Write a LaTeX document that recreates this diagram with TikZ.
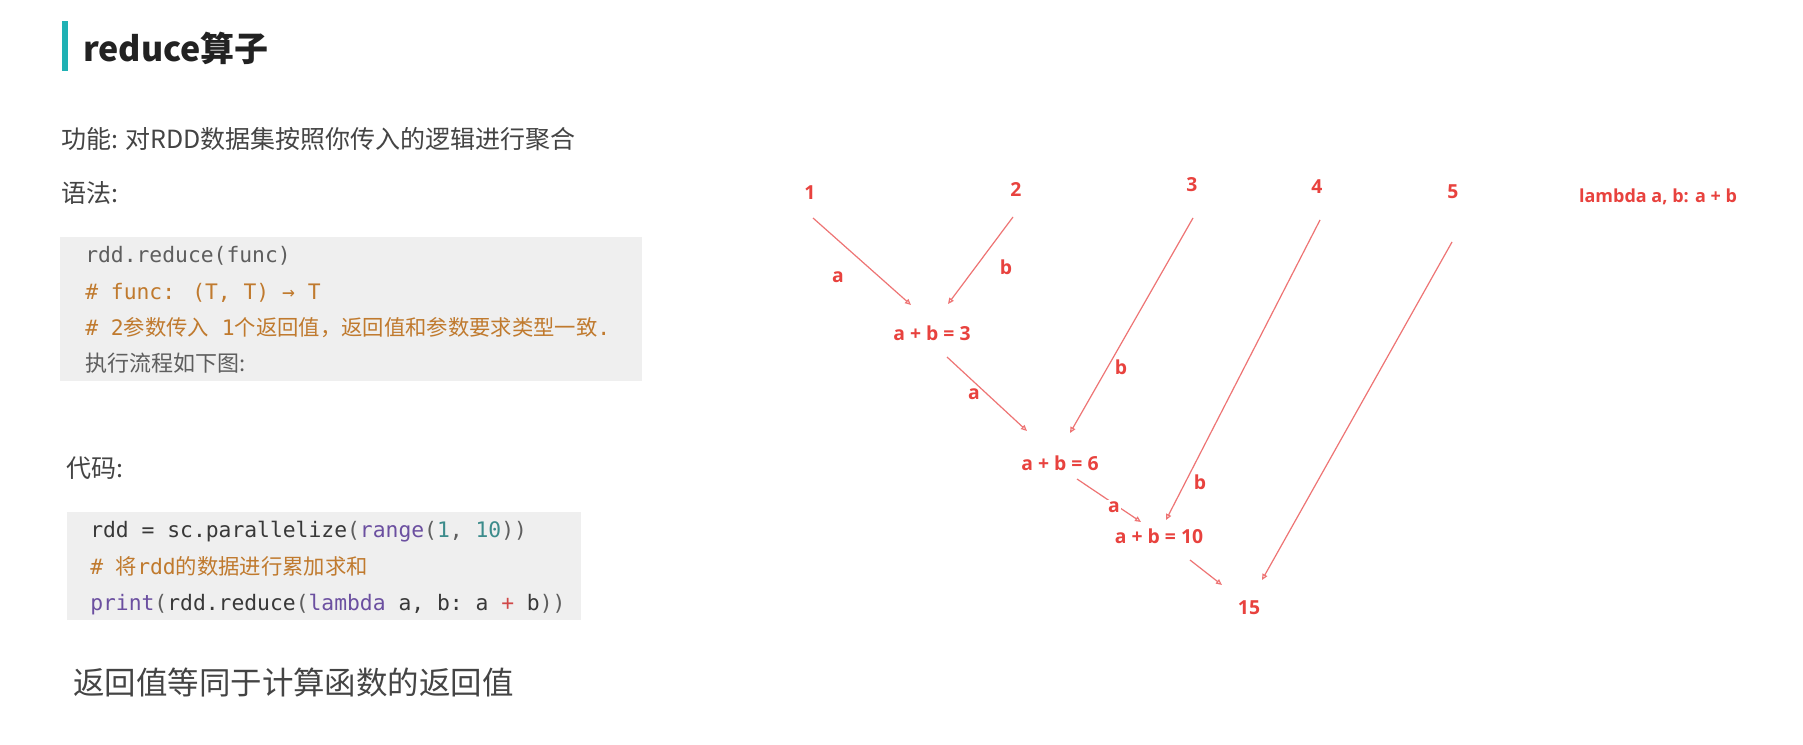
\documentclass[tikz,border=0pt]{standalone}
\usepackage{fontspec}
\usetikzlibrary{arrows.meta}
\setmainfont{Noto Sans CJK SC}
\newfontfamily\cjk{Noto Sans CJK SC}
\newfontfamily\mono{DejaVu Sans Mono}
\newfontfamily\rfont{Open Sans}
\definecolor{cteal}{HTML}{1FB1B4}
\definecolor{ctitle}{HTML}{222222}
\definecolor{ctext}{HTML}{444444}
\definecolor{cgray}{HTML}{5E5E5E}
\definecolor{cdark}{HTML}{383838}
\definecolor{corange}{HTML}{C07A2E}
\definecolor{cpurple}{HTML}{6B4FA0}
\definecolor{cnum}{HTML}{3C8C8C}
\definecolor{cplus}{HTML}{D04848}
\definecolor{cbox}{HTML}{EFEFEF}
\definecolor{cred}{HTML}{E8423E}
\definecolor{cline}{HTML}{EE7474}
\newcommand{\codefont}{\fontsize{16pt}{19pt}\selectfont}
\tikzset{
  txt/.style={anchor=base west, inner sep=0pt},
  body/.style={txt, text=ctext, font=\cjk\fontsize{18.75pt}{22pt}\selectfont},
  codeline/.style={txt, font=\mono\codefont},
  codebox/.style={fill=cbox, draw=none},
  rtxt/.style={inner sep=0pt, text=cred, font=\rfont\bfseries\fontsize{14.5pt}{18pt}\selectfont},
  lbl/.style={rtxt},
  arr/.style={draw=cline, line width=0.9pt, -{Triangle[open, length=4.5pt, width=4pt]}},
}
\begin{document}
\begin{tikzpicture}[x=0.75pt, y=-0.75pt]
\useasboundingbox[fill=white] (0,0) rectangle (1803,745);

% title
\fill[cteal] (62,21) rectangle (68,71);
\node[txt, text=ctitle, font=\cjk\bfseries\fontsize{25.5pt}{30pt}\selectfont] (title) at (83,62) {reduce算子};

\node[body] (func) at (61,148.5) {功能: 对RDD数据集按照你传入的逻辑进行聚合};
\node[body] (syn) at (61,202.5) {语法:};

% code box 1
\fill[codebox] (60,237) rectangle (642,381);
\node[codeline, text=cgray] (c11) at (85,262.5) {rdd.reduce(func)};
\node[codeline, text=corange] (c12) at (85,299.5) {\# func: (T, T) → T};
\node[codeline, text=corange] (c13) at (85,335.5) {\# 2{\cjk 参数传入}\ 1{\cjk 个返回值，返回值和参数要求类型一致}.};
\node[codeline, text=cgray, font=\cjk\fontsize{16.5pt}{19pt}\selectfont] (c14) at (85,371) {执行流程如下图:};

\node[body] (code) at (66,477.5) {代码:};

% code box 2
\fill[codebox] (67,512) rectangle (581,620);
\node[codeline, text=cdark] (c21) at (90,537.5) {rdd = sc.parallelize{\color{cgray}(}{\color{cpurple}range}{\color{cgray}(}{\color{cnum}1}{\color{cgray},\ }{\color{cnum}10}{\color{cgray}))}};
\node[codeline, text=corange] (c22) at (90,574.5) {\#\ {\cjk 将}rdd{\cjk 的数据进行累加求和}};
\node[codeline, text=cdark] (c23) at (90,610.5) {{\color{cpurple}print}{\color{cgray}(}rdd.reduce{\color{cgray}(}{\color{cpurple}lambda}\ a,\ b:\ a\ {\color{cplus}+}\ b{\color{cgray}))}};

\node[txt, text=ctext, font=\cjk\fontsize{23.6pt}{28pt}\selectfont] (ret) at (73,694) {返回值等同于计算函数的返回值};

% reduce diagram
\node[rtxt] (n1) at (810,193) {1};
\node[rtxt] (n2) at (1016,190) {2};
\node[rtxt] (n3) at (1192,185) {3};
\node[rtxt] (n4) at (1317,187) {4};
\node[rtxt] (n5) at (1453,192) {5};
\node[rtxt, font=\rfont\bfseries\fontsize{13.5pt}{17pt}\selectfont] (lam) at (1658,197) {lambda a, b: a + b};
\node[rtxt] (s3) at (932,333) {a + b = 3};
\node[rtxt] (s6) at (1060,463) {a + b = 6};
\node[rtxt] (s10) at (1159,536) {a + b = 10};
\node[rtxt] (s15) at (1249,608) {15};

\draw[arr] ([shift={(3,25)}]n1.center) -- ([shift={(-21,-28)}]s3.center);
\draw[arr] ([shift={(-3,27)}]n2.center) -- ([shift={(16,-29)}]s3.center);
\draw[arr] ([shift={(15,24)}]s3.center) -- ([shift={(-33,-32)}]s6.center);
\draw[arr] ([shift={(1,33)}]n3.center) -- ([shift={(10,-30)}]s6.center);
\draw[arr] ([shift={(17,16)}]s6.center) -- ([shift={(-18,-14)}]s10.center);
\draw[arr] ([shift={(3,33)}]n4.center) -- ([shift={(7,-16)}]s10.center);
\draw[arr] ([shift={(31,24)}]s10.center) -- ([shift={(-27,-23)}]s15.center);
\draw[arr] ([shift={(-1,50)}]n5.center) -- ([shift={(13,-28)}]s15.center);

\node[lbl] (la1) at (838,277) {a};
\node[lbl] (lb1) at (1006,267) {b};
\node[lbl] (la2) at (974,394) {a};
\node[lbl] (lb2) at (1121,367) {b};
\node[lbl, fill=white, inner sep=1pt] (la3) at (1114,507) {a};
\node[lbl] (lb3) at (1200,482) {b};
\end{tikzpicture}
\end{document}
